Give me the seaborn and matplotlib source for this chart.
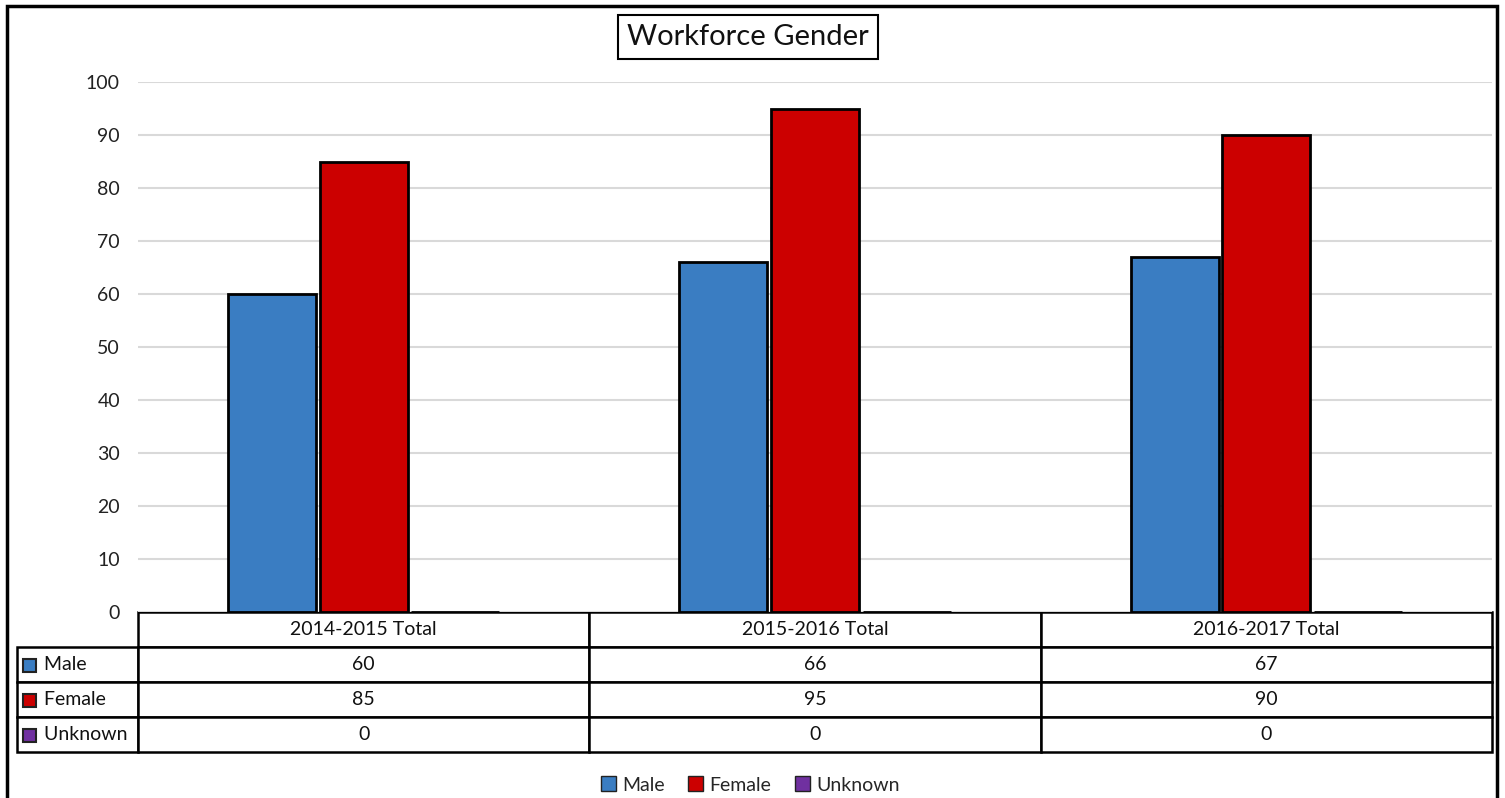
import pandas as pd
import matplotlib.pyplot as plt
import seaborn as sns
from matplotlib.patches import Rectangle, Patch

years = ['2014-2015 Total', '2015-2016 Total', '2016-2017 Total']
series = ['Male', 'Female', 'Unknown']
male = [60, 66, 67]
female = [85, 95, 90]
unknown = [0, 0, 0]
colors = ['#3a7dc2', '#cc0000', '#7030a0']

df = pd.DataFrame({
    'year': years * 3,
    'gender': ['Male'] * 3 + ['Female'] * 3 + ['Unknown'] * 3,
    'value': male + female + unknown,
})

sns.set_theme(style="white")
plt.rcParams['font.family'] = ['Lato', 'DejaVu Sans']

W, H = 1505, 798
fig = plt.figure(figsize=(W / 100, H / 100), dpi=100)
ax = fig.add_axes([138 / W, 1 - 612 / H, 1354 / W, 530 / H])

sns.barplot(data=df, x='year', y='value', hue='gender', hue_order=series,
            palette=colors, saturation=1, width=0.61, gap=0.04,
            edgecolor='black', linewidth=2, legend=False, ax=ax)

ax.set_ylim(0, 100)
ax.set_yticks(range(0, 101, 10))
ax.yaxis.grid(True, color='#d9d9d9', linewidth=1.5)
ax.set_axisbelow(True)
ax.tick_params(axis='y', labelsize=14, length=0, pad=13, colors='#222222')
ax.set_xticks([])
ax.set_xlabel('')
ax.set_ylabel('')
for s in ['top', 'right', 'left', 'bottom']:
    ax.spines[s].set_visible(False)

# data table under the bars (first column holds the row labels)
lw = 121 / 1354
rows = [male, female, unknown]
cell_text = [['     ' + s] + [str(v) for v in r] for s, r in zip(series, rows)]
tab = ax.table(cellText=cell_text, colLabels=[''] + years,
               colWidths=[lw] + [1 / 3] * 3, cellLoc='center',
               bbox=[-lw, -140 / 530, 1 + lw, 140 / 530])
tab.auto_set_font_size(False)
tab.set_fontsize(14)
for (r, c), cell in tab.get_celld().items():
    cell.set_edgecolor('black')
    cell.set_linewidth(1.8)
    cell.get_text().set_color('#111111')
    if c == 0:
        cell.get_text().set_horizontalalignment('left')
        cell.PAD = 0.02
    if r == 0 and c == 0:
        cell.visible_edges = ''

# legend squares in row labels
for i, col in enumerate(colors):
    yc = -(140 / 530) * (1.5 + i) / 4
    ax.add_patch(Rectangle((-lw + 6 / 1354, yc - 7 / 530), 13 / 1354, 13 / 530,
                           facecolor=col, edgecolor='#222222', linewidth=1.5,
                           transform=ax.transAxes, clip_on=False))

fig.text(748 / W, 1 - 37 / H, 'Workforce Gender', fontsize=21, color='#111111',
         ha='center', va='center',
         bbox=dict(boxstyle='square,pad=0.3', facecolor='white',
                   edgecolor='black', linewidth=1.5))

handles = [Patch(facecolor=c, edgecolor='#222222', label=s) for c, s in zip(colors, series)]
fig.legend(handles=handles, loc='center', bbox_to_anchor=(750 / W, 1 - 785 / H),
           ncol=3, frameon=False, fontsize=14, handlelength=0.8, handleheight=0.8,
           handletextpad=0.3, columnspacing=1.2)

fig.add_artist(Rectangle((7 / W, -0.01), 1490 / W, 1 - 6 / H + 0.01,
                         transform=fig.transFigure, fill=False,
                         edgecolor='black', linewidth=2.5))

fig.savefig('out.png', dpi=100, facecolor='white')
